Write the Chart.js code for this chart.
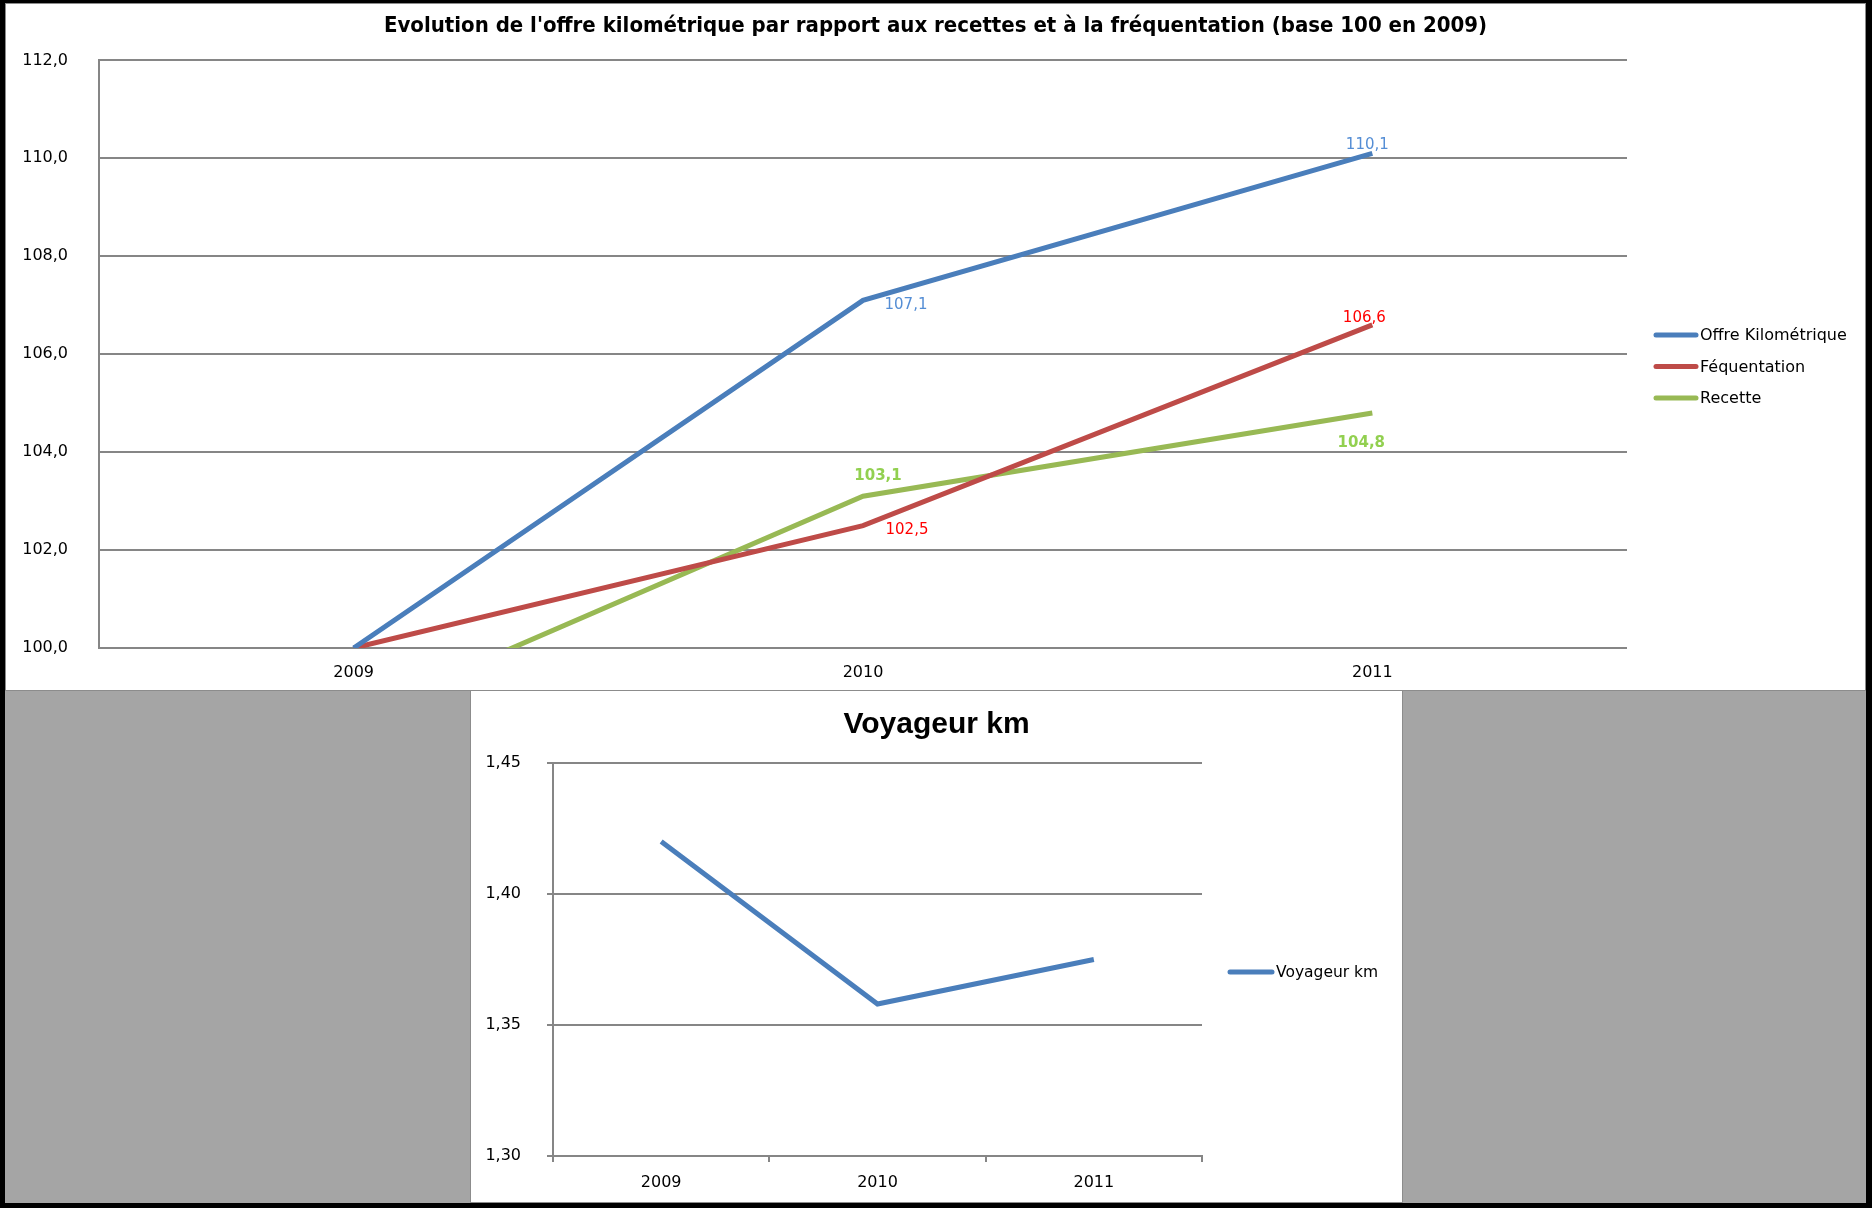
<!DOCTYPE html>
<html lang="fr">
<head>
  <meta charset="UTF-8" />
  <title>Offre kilométrique</title>
  <script src="https://cdn.jsdelivr.net/npm/chart.js"></script>
  <style>
    body {
      margin: 0;
      width: 1872px;
      height: 1208px;
      background: #000;
      overflow: hidden;
      position: relative;
    }
    .fond {
      position: absolute;
      left: 5px;
      top: 3px;
      width: 1861px;
      height: 1200px;
      background: #a5a5a5;
    }
    .panneau {
      position: absolute;
      box-sizing: border-box;
      border: 1px solid #8c8c8c;
      background: #fff;
    }
    .panneau canvas { display: block; }
  </style>
</head>
<body>
  <div class="fond"></div>
  <div class="panneau" style="left: 5px; top: 3px; width: 1861px; height: 688px;">
    <canvas id="evolution" width="1859" height="686"></canvas>
  </div>
  <div class="panneau" style="left: 470px; top: 690px; width: 933px; height: 513px;">
    <canvas id="voyageur" width="931" height="511"></canvas>
  </div>

  <script>
    // donnees
    const years = ['2009', '2010', '2011'];
    const offreKm = [100, 107.1, 110.1];
    const frequentation = [100, 102.5, 106.6];
    const recette = [98.6, 103.1, 104.8];
    const voyageurKm = [1.42, 1.358, 1.375];
    const indexTicks = [100, 102, 104, 106, 108, 110, 112];
    const voyTicks = [1.30, 1.35, 1.40, 1.45];

    const grisAxe = '#868686';
    const virgule = (v, d) => Number(v).toFixed(d).replace('.', ',');

    Chart.defaults.font.family = "'DejaVu Sans', sans-serif";
    Chart.defaults.font.size = 16;
    Chart.defaults.color = '#000';

    // axe vide a droite : reserve la place de la legende sans decentrer le titre
    const axeLegende = (w) => ({
      position: 'right',
      display: true,
      grid: { display: false },
      border: { display: false },
      ticks: { display: false },
      afterFit: (s) => { s.width = w; }
    });

    // legende dessinee a droite (trait + texte)
    const legendeTraits = {
      id: 'legendeTraits',
      afterDraw(chart, args, opts) {
        const ctx = chart.ctx;
        ctx.save();
        ctx.font = opts.font;
        ctx.fillStyle = '#000';
        ctx.textBaseline = 'middle';
        chart.data.datasets.forEach((ds, i) => {
          const y = opts.y + i * opts.gap;
          ctx.beginPath();
          ctx.lineCap = 'round';
          ctx.lineWidth = ds.borderWidth;
          ctx.strokeStyle = ds.borderColor;
          ctx.moveTo(opts.x, y);
          ctx.lineTo(opts.x + opts.len, y);
          ctx.stroke();
          ctx.fillText(ds.label, opts.x + opts.len + 4, y + 1);
        });
        ctx.restore();
      }
    };

    // etiquettes de valeurs
    const etiquettes = {
      id: 'etiquettes',
      afterDatasetsDraw(chart, args, opts) {
        const ctx = chart.ctx;
        ctx.save();
        ctx.textAlign = 'center';
        ctx.textBaseline = 'middle';
        (opts.series || []).forEach((s, i) => {
          const meta = chart.getDatasetMeta(i);
          const ds = chart.data.datasets[i];
          ctx.fillStyle = s.color;
          ctx.font = s.font;
          s.offsets.forEach((off, j) => {
            if (!off) return;
            const p = meta.data[j];
            ctx.fillText(virgule(ds.data[j], 1), p.x + off[0], p.y + off[1]);
          });
        });
        ctx.restore();
      }
    };

    new Chart(document.getElementById('evolution'), {
      type: 'line',
      data: {
        labels: years,
        datasets: [
          { label: 'Offre Kilométrique', data: offreKm, borderColor: '#4a7ebb', borderWidth: 5 },
          { label: 'Féquentation', data: frequentation, borderColor: '#be4b48', borderWidth: 5 },
          { label: 'Recette', data: recette, borderColor: '#98b954', borderWidth: 5 }
        ]
      },
      options: {
        responsive: false,
        animation: false,
        devicePixelRatio: 1,
        elements: { point: { radius: 0 }, line: { tension: 0 } },
        scales: {
          x: {
            offset: true,
            grid: { display: false },
            border: { display: false },
            ticks: { padding: 7, maxRotation: 0 },
            afterFit: (s) => { s.height = 42; }
          },
          y: {
            min: indexTicks[0],
            max: indexTicks[indexTicks.length - 1],
            afterBuildTicks: (s) => { s.ticks = indexTicks.map(v => ({ value: v })); },
            grid: { color: grisAxe, lineWidth: 2, drawTicks: false },
            border: { display: true, color: grisAxe, width: 2 },
            ticks: { padding: 31, callback: (v) => virgule(v, 1) },
            afterFit: (s) => { s.width = 93; }
          },
          place: axeLegende(238)
        },
        plugins: {
          legend: { display: false },
          tooltip: { enabled: false },
          title: {
            display: true,
            text: "Evolution de l'offre kilométrique par rapport aux recettes et à la fréquentation (base 100 en 2009)",
            color: '#000',
            font: { family: "'DejaVu Sans Condensed', 'Liberation Sans', sans-serif", size: 22, weight: 'bold' },
            padding: { top: 9, bottom: 21 }
          },
          legendeTraits: { x: 1650, y: 331, gap: 31.5, len: 40, font: "16px 'DejaVu Sans'" },
          etiquettes: {
            series: [
              { color: '#558ed5', font: "15px 'DejaVu Sans'", offsets: [null, [43, 5], [-5, -8]] },
              { color: '#ff0000', font: "15px 'DejaVu Sans'", offsets: [null, [44, 5], [-8, -7]] },
              { color: '#92d050', font: "bold 15px 'DejaVu Sans'", offsets: [null, [15, -20], [-11, 30]] }
            ]
          }
        }
      },
      plugins: [legendeTraits, etiquettes]
    });

    new Chart(document.getElementById('voyageur'), {
      type: 'line',
      data: {
        labels: years,
        datasets: [
          { label: 'Voyageur km', data: voyageurKm, borderColor: '#4a7ebb', borderWidth: 5 }
        ]
      },
      options: {
        responsive: false,
        animation: false,
        devicePixelRatio: 1,
        elements: { point: { radius: 0 }, line: { tension: 0 } },
        scales: {
          x: {
            offset: true,
            grid: { offset: true, drawOnChartArea: false, drawTicks: true, tickLength: 6, color: grisAxe, lineWidth: 2 },
            border: { display: true, color: grisAxe, width: 2 },
            ticks: { padding: 11, maxRotation: 0 },
            afterFit: (s) => { s.height = 46; }
          },
          y: {
            min: voyTicks[0],
            max: voyTicks[voyTicks.length - 1],
            afterBuildTicks: (s) => { s.ticks = voyTicks.map(v => ({ value: v })); },
            grid: { color: grisAxe, lineWidth: 2, drawTicks: true, tickLength: 6 },
            border: { display: true, color: grisAxe, width: 2 },
            ticks: { padding: 26, callback: (v) => virgule(v, 2) },
            afterFit: (s) => { s.width = 82; }
          },
          place: axeLegende(200)
        },
        plugins: {
          legend: { display: false },
          tooltip: { enabled: false },
          title: {
            display: true,
            text: 'Voyageur km',
            color: '#000',
            font: { family: "'Liberation Sans', sans-serif", size: 30, weight: 'bold' },
            padding: { top: 16, bottom: 20 }
          },
          legendeTraits: { x: 759, y: 281, gap: 0, len: 42, font: "15.5px 'DejaVu Sans'" }
        }
      },
      plugins: [legendeTraits]
    });
  </script>
</body>
</html>
